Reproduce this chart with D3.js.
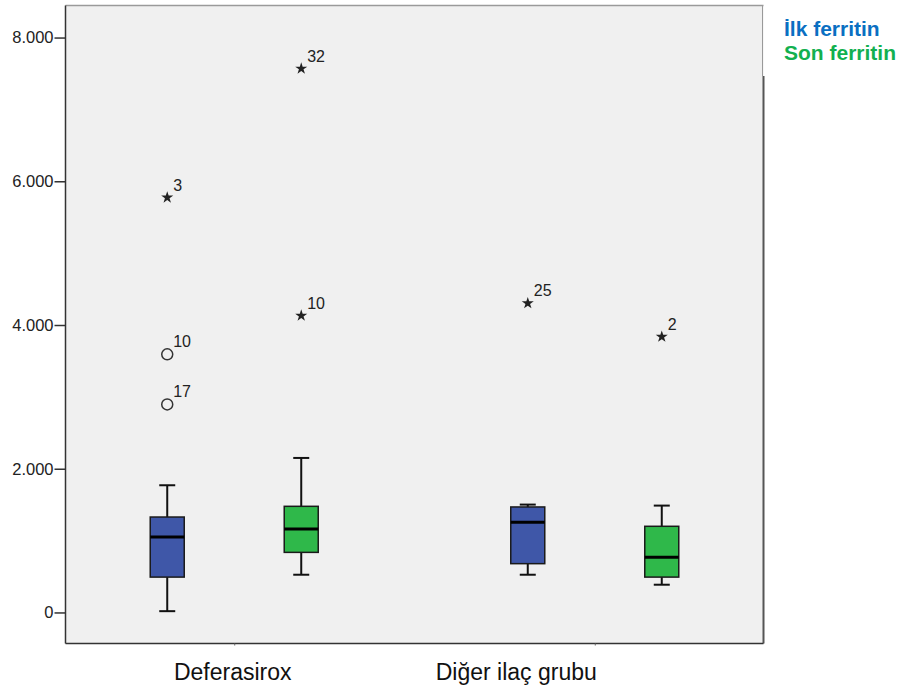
<!DOCTYPE html>
<html><head><meta charset="utf-8">
<script src="https://cdn.jsdelivr.net/npm/d3@7"></script>
<style>body{margin:0;background:#fff}svg{display:block}</style>
</head><body><svg id="c" width="900" height="691"></svg>
<script>
const categories = ["Deferasirox", "Diğer ilaç grubu"];
const series = ["İlk ferritin", "Son ferritin"];
const seriesColors = ["#3f57a8", "#2fb84a"];
const legendColors = ["#0a6fc2", "#12b050"];
// [min, q1, median, q3, max] per category per series
const ilkStats = [[18, 492, 1050, 1328, 1770], [525, 679, 1254, 1468, 1501]];
const sonStats = [[525, 836, 1161, 1477, 2150], [386, 492, 767, 1199, 1487]];
// outliers: [categoryIndex, seriesIndex, value, label, type]
const outliers = [
  [0, 0, 5774, "3", "star"],
  [0, 0, 3592, "10", "circle"],
  [0, 0, 2895, "17", "circle"],
  [0, 1, 7568, "32", "star"],
  [0, 1, 4130, "10", "star"],
  [1, 0, 4303, "25", "star"],
  [1, 1, 3837, "2", "star"]
];
const yTicks = [0, 2000, 4000, 6000, 8000];

const svg = d3.select("#c");
const L = 65.5, R = 763.5, T = 5.5, B = 643.5;
const y = d3.scaleLinear().domain([-432, 8446]).range([B, T]);
const x = d3.scalePoint().domain(categories).range([L, R]).padding(0.468);
const sub = d3.scalePoint().domain(series).range([-67, 67]);
const fmt = v => v === 0 ? "0" : d3.format(",")(v).replace(/,/g, ".");
const FONT = "Liberation Sans, Arial, sans-serif";

svg.append("rect").attr("x", L).attr("y", T).attr("width", R - L).attr("height", B - T).attr("fill", "#f0f0f0");
// frame
svg.append("line").attr("x1", L).attr("x2", R).attr("y1", T).attr("y2", T).attr("stroke", "#9a9a9a").attr("stroke-width", 1.5);
svg.append("line").attr("x1", R - 1).attr("x2", R - 1).attr("y1", T).attr("y2", 76).attr("stroke", "#9a9a9a").attr("stroke-width", 1);
svg.append("line").attr("x1", R).attr("x2", R).attr("y1", 76).attr("y2", B).attr("stroke", "#555").attr("stroke-width", 2);

// y axis
const ya = svg.append("g").attr("transform", `translate(${L},0)`)
  .call(d3.axisLeft(y).tickValues(yTicks).tickFormat(fmt).tickSize(11).tickPadding(1));
ya.select(".domain").attr("stroke", "#333").attr("stroke-width", 1.5).attr("d", `M0,${T}V${B}`);
ya.selectAll(".tick line").attr("stroke", "#333").attr("stroke-width", 1.5);
ya.selectAll(".tick text").attr("font-family", FONT).attr("font-size", 16.5).attr("fill", "#222");

// x axis
const xa = svg.append("g").attr("transform", `translate(0,${B})`)
  .call(d3.axisBottom(x).tickSize(2).tickPadding(18.5));
xa.select(".domain").attr("stroke", "#333").attr("stroke-width", 1.5).attr("d", `M${L},0H${R}`);
xa.selectAll(".tick line").attr("stroke", "#666");
xa.selectAll(".tick text").attr("font-family", FONT).attr("font-size", 23).attr("fill", "#111")
  .attr("dx", (d, i) => i === 1 ? -79 : -2);

const bw = 34, cw = 16;
const allStats = [ilkStats, sonStats];
allStats.forEach((st, si) => {
  st.forEach((s, ci) => {
    const cx = x(categories[ci]) + sub(series[si]);
    const g = svg.append("g");
    const [mn, q1, md, q3, mx] = s;
    g.append("line").attr("x1", cx).attr("x2", cx).attr("y1", y(mx)).attr("y2", y(q3)).attr("stroke", "#111").attr("stroke-width", 2);
    g.append("line").attr("x1", cx).attr("x2", cx).attr("y1", y(q1)).attr("y2", y(mn)).attr("stroke", "#111").attr("stroke-width", 2);
    g.append("line").attr("x1", cx - cw / 2).attr("x2", cx + cw / 2).attr("y1", y(mx)).attr("y2", y(mx)).attr("stroke", "#111").attr("stroke-width", 2);
    g.append("line").attr("x1", cx - cw / 2).attr("x2", cx + cw / 2).attr("y1", y(mn)).attr("y2", y(mn)).attr("stroke", "#111").attr("stroke-width", 2);
    g.append("rect").attr("x", cx - bw / 2).attr("width", bw).attr("y", y(q3)).attr("height", y(q1) - y(q3))
      .attr("fill", seriesColors[si]).attr("stroke", "#1a1a1a").attr("stroke-width", 1.5);
    g.append("line").attr("x1", cx - bw / 2).attr("x2", cx + bw / 2).attr("y1", y(md)).attr("y2", y(md)).attr("stroke", "#000").attr("stroke-width", 3);
  });
});

// outliers
const star = d3.symbol().type(d3.symbolStar).size(45);
outliers.forEach(([ci, si, v, lab, type]) => {
  const cx = x(categories[ci]) + sub(series[si]);
  const cy = y(v);
  if (type === "star") {
    svg.append("path").attr("d", star()).attr("transform", `translate(${cx},${cy})`).attr("fill", "#222");
  } else {
    svg.append("circle").attr("cx", cx).attr("cy", cy).attr("r", 5.5).attr("fill", "none").attr("stroke", "#333").attr("stroke-width", 1.5);
  }
  svg.append("text").attr("x", cx + 6).attr("y", cy - 7).text(lab)
    .attr("font-family", FONT).attr("font-size", 16).attr("fill", "#222");
});

// legend
series.forEach((s, i) => {
  svg.append("text").attr("x", 784).attr("y", 36 + i * 24).text(s)
    .attr("font-family", FONT).attr("font-size", 21).attr("font-weight", "bold").attr("fill", legendColors[i]);
});
</script></body></html>
